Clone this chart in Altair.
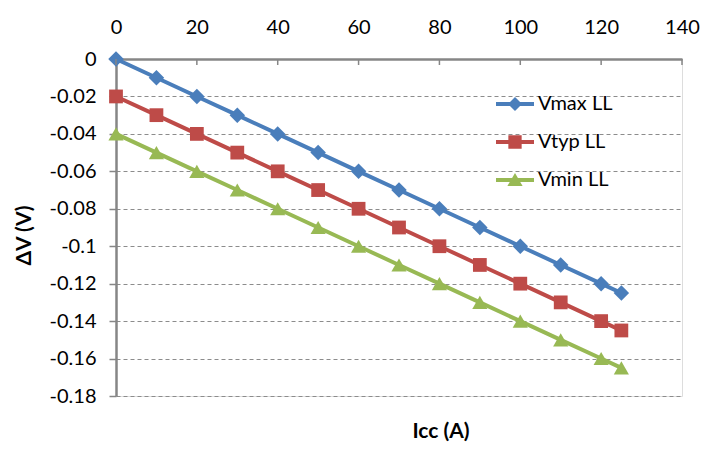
import altair as alt
import pandas as pd

icc = [0, 10, 20, 30, 40, 50, 60, 70, 80, 90, 100, 110, 120, 125]
vmax = [0, -0.01, -0.02, -0.03, -0.04, -0.05, -0.06, -0.07, -0.08, -0.09, -0.10, -0.11, -0.12, -0.125]
vtyp = [-0.02, -0.03, -0.04, -0.05, -0.06, -0.07, -0.08, -0.09, -0.10, -0.11, -0.12, -0.13, -0.14, -0.145]
vmin = [-0.04, -0.05, -0.06, -0.07, -0.08, -0.09, -0.10, -0.11, -0.12, -0.13, -0.14, -0.15, -0.16, -0.165]
series = ["Vmax LL", "Vtyp LL", "Vmin LL"]
colors = ["#4A7EBB", "#BE4B48", "#98B954"]
x_ticks = [0, 20, 40, 60, 80, 100, 120, 140]
y_ticks = [0, -0.02, -0.04, -0.06, -0.08, -0.1, -0.12, -0.14, -0.16, -0.18]

rows = []
for name, vals in zip(series, [vmax, vtyp, vmin]):
    for i, v in zip(icc, vals):
        rows.append({"icc": i, "dv": v, "series": name})
df = pd.DataFrame(rows)
tick_df = pd.DataFrame({"icc": x_ticks})

FONT = "Lato"
GRAY = "#868686"

x_enc = alt.X(
    "icc:Q",
    scale=alt.Scale(domain=[0, 140], nice=False, zero=False),
    axis=alt.Axis(
        orient="top", values=x_ticks, tickSize=0, labelPadding=22, labelFlush=False,
        domainColor=GRAY, domainWidth=2.5, grid=False, title=None,
        labelFont=FONT, labelFontSize=20, labelColor="#000000",
    ),
)
y_enc = alt.Y(
    "dv:Q",
    scale=alt.Scale(domain=[-0.18, 0], nice=False, zero=False),
    axis=alt.Axis(
        values=y_ticks, tickSize=7, tickColor=GRAY, tickWidth=1.5, labelFlush=False,
        domainColor=GRAY, domainWidth=2.5,
        grid=True, gridDash=[4, 3], gridColor="#8C8C8C", gridWidth=1,
        labelFont=FONT, labelFontSize=20, labelColor="#000000", labelPadding=13,
        labelExpr="datum.value == 0 ? '0' : '-' + format(abs(datum.value), '~g')",
        title="ΔV (V)", titleFont=FONT, titleFontSize=21, titleFontWeight="bold",
        titleColor="#000000", titleX=-92, titleY=176, titleAlign="center",
        titleBaseline="middle", titleAngle=270,
    ),
)
color_nolegend = alt.Color("series:N", scale=alt.Scale(domain=series, range=colors), legend=None)

lines = alt.Chart(df).mark_line(strokeWidth=4).encode(
    x=x_enc, y=y_enc, color=color_nolegend, detail="series:N"
)

shapes = ["diamond", "square", "triangle-up"]
sizes = [240, 190, 230]
point_layers = []
for name, shp, sz in zip(series, shapes, sizes):
    point_layers.append(
        alt.Chart(df).transform_filter(alt.datum.series == name)
        .mark_point(filled=True, opacity=1, shape=shp, size=sz, strokeWidth=0)
        .encode(x=x_enc, y=y_enc, color=color_nolegend)
    )

legend_paths = [
    "M-1,-0.1H1V0.1H-1Z M0,-0.37L0.37,0L0,0.37L-0.37,0Z",
    "M-1,-0.1H1V0.1H-1Z M-0.35,-0.35H0.35V0.35H-0.35Z",
    "M-1,-0.1H1V0.1H-1Z M0,-0.37L0.4,0.32L-0.4,0.32Z",
]
# helper marks that only feed the legend (drawn under the plot's points)
legend_layer = alt.Chart(df).mark_point(filled=True, opacity=1, size=1, strokeWidth=0).encode(
    x=x_enc, y=y_enc,
    fill=alt.Fill(
        "series:N", scale=alt.Scale(domain=series, range=colors),
        legend=alt.Legend(
            title=None, orient="none", legendX=380, legendY=26,
            symbolSize=1444, symbolStrokeWidth=0, symbolOpacity=1,
            labelFont=FONT, labelFontSize=20, labelColor="#000000",
            labelOffset=4, rowPadding=9,
        ),
    ),
    shape=alt.Shape("series:N", scale=alt.Scale(domain=series, range=legend_paths)),
)

tick_marks = alt.Chart(tick_df).mark_rule(color=GRAY, strokeWidth=1.5).encode(
    x=x_enc, y=alt.value(0), y2=alt.value(6)
)

chart = alt.layer(legend_layer, lines, *point_layers, tick_marks).properties(
    width=566, height=337,
    padding={"left": 108, "top": 51, "right": 18, "bottom": 46},
    autosize=alt.AutoSizeParams(type="none"),
    title=alt.TitleParams(
        "Icc (A)", orient="bottom", anchor="middle", frame="group", dx=42, offset=15,
        font=FONT, fontSize=21, fontWeight="bold", color="#000000", baseline="top",
    ),
).configure_view(strokeWidth=0).configure(background="white")

chart.save("out.html", embed_options={"renderer": "svg", "actions": False})
